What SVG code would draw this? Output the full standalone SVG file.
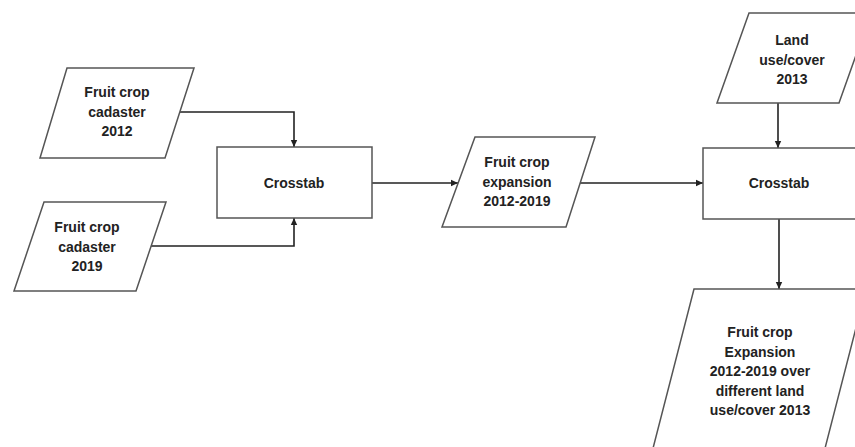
<svg xmlns="http://www.w3.org/2000/svg" width="855" height="447" viewBox="0 0 855 447">
<style>
.shape{fill:#fff;stroke:#555;stroke-width:1.5}
.lbl{font-family:"Liberation Sans",Arial,sans-serif;font-weight:bold;font-size:14px;fill:#222;text-anchor:middle}
.conn{fill:none;stroke:#222;stroke-width:1.6;marker-end:url(#ah)}
</style>
<defs>
<marker id="ah" markerUnits="userSpaceOnUse" markerWidth="8" markerHeight="8" refX="7" refY="4" orient="auto">
<path d="M0,0.8 L7,4 L0,7.2 Z" fill="#222"/>
</marker>
</defs>
<rect width="855" height="447" fill="#fff"/>
<g id="connectors">
<path class="conn" d="M180,112 H294 V147"/>
<path class="conn" d="M151,246 H294 V218"/>
<path class="conn" d="M372,183 H458"/>
<path class="conn" d="M580,183 H703"/>
<path class="conn" d="M778,103 V148"/>
<path class="conn" d="M779,219 V289"/>
</g>
<g id="n1">
<polygon class="shape" points="67,68 194,68 165,158 40,158"/>
<text class="lbl" x="117" y="97">Fruit crop</text>
<text class="lbl" x="117" y="117">cadaster</text>
<text class="lbl" x="117" y="136">2012</text>
</g>
<g id="n2">
<polygon class="shape" points="44,202 166,202 136,291 14,291"/>
<text class="lbl" x="87" y="232">Fruit crop</text>
<text class="lbl" x="87" y="252">cadaster</text>
<text class="lbl" x="87" y="271">2019</text>
</g>
<g id="n3">
<rect class="shape" x="217" y="147" width="155" height="71"/>
<text class="lbl" x="294" y="188">Crosstab</text>
</g>
<g id="n4">
<polygon class="shape" points="475,137 595,137 566,227 442,227"/>
<text class="lbl" x="517" y="167">Fruit crop</text>
<text class="lbl" x="517" y="187">expansion</text>
<text class="lbl" x="517" y="206">2012-2019</text>
</g>
<g id="n5">
<polygon class="shape" points="749,13 871,13 839,103 717,103"/>
<text class="lbl" x="792" y="45">Land</text>
<text class="lbl" x="792" y="65">use/cover</text>
<text class="lbl" x="792" y="84">2013</text>
</g>
<g id="n6">
<rect class="shape" x="703" y="148" width="160" height="71"/>
<text class="lbl" x="779" y="188">Crosstab</text>
</g>
<g id="n7">
<polygon class="shape" points="694,289 866,289 822,460 650,460"/>
<text class="lbl" x="760" y="337">Fruit crop</text>
<text class="lbl" x="760" y="357">Expansion</text>
<text class="lbl" x="760" y="376">2012-2019 over</text>
<text class="lbl" x="760" y="396">different land</text>
<text class="lbl" x="760" y="415">use/cover 2013</text>
</g>
</svg>
